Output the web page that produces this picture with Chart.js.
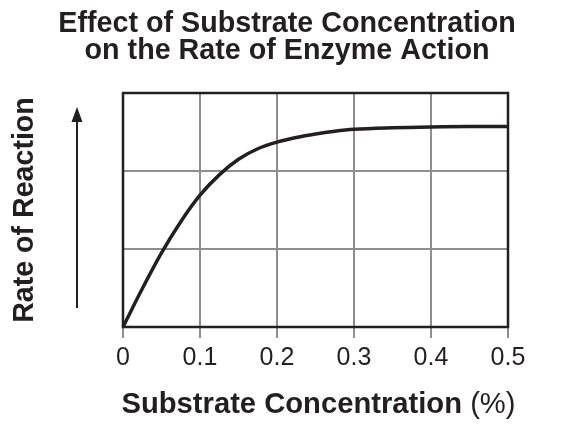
<!DOCTYPE html>
<html>
<head>
<meta charset="utf-8">
<script src="https://cdn.jsdelivr.net/npm/chart.js@4/dist/chart.umd.min.js"></script>
<style>
  html, body { margin: 0; padding: 0; background: #ffffff; }
  canvas { display: block; }
</style>
</head>
<body>
<canvas id="c" width="573" height="425"></canvas>
<script>
// ---- Data ----
const concentration = [0, 0.025, 0.05, 0.075, 0.1, 0.125, 0.15, 0.175, 0.2, 0.225, 0.25, 0.275, 0.3, 0.35, 0.4, 0.45, 0.5];
const reactionRate  = [0, 0.49, 0.95, 1.35, 1.69, 1.95, 2.15, 2.285, 2.37, 2.43, 2.475, 2.51, 2.535, 2.555, 2.565, 2.57, 2.57];
const xTickLabels   = ['0', '0.1', '0.2', '0.3', '0.4', '0.5'];
const titleLines    = ['Effect of Substrate Concentration', 'on the Rate of Enzyme Action'];
const xTitleBold    = 'Substrate Concentration';
const xTitleRegular = ' (%)';
const yTitle        = 'Rate of Reaction';

const FONT = '"Liberation Sans", Arial, Helvetica, sans-serif';
const INK = '#231f20';
const GRID = '#8e8e8e';

const points = concentration.map((x, i) => ({ x: x, y: reactionRate[i] }));

const decorPlugin = {
  id: 'decor',
  beforeDatasetsDraw(chart) {
    const { ctx, chartArea: a } = chart;
    ctx.save();
    ctx.strokeStyle = INK;
    ctx.lineWidth = 2.5;
    ctx.strokeRect(a.left, a.top, a.right - a.left, a.bottom - a.top);
    ctx.restore();
  },
  afterDraw(chart) {
    const { ctx, chartArea: a } = chart;
    ctx.save();
    ctx.fillStyle = INK;
    // Title
    ctx.font = 'bold 28.7px ' + FONT;
    ctx.textAlign = 'center';
    ctx.textBaseline = 'alphabetic';
    ctx.fillText(titleLines[0], 287, 32);
    ctx.fillText(titleLines[1], 287, 59);

    // X axis title (bold + regular)
    const cx = (a.left + a.right) / 2 + 3;
    ctx.font = 'bold 29.2px ' + FONT;
    const wb = ctx.measureText(xTitleBold).width;
    ctx.font = '29.2px ' + FONT;
    const wr = ctx.measureText(xTitleRegular).width;
    let sx = cx - (wb + wr) / 2;
    ctx.textAlign = 'left';
    ctx.font = 'bold 29.2px ' + FONT;
    ctx.fillText(xTitleBold, sx, 413);
    ctx.font = '29.2px ' + FONT;
    ctx.fillText(xTitleRegular, sx + wb, 413);

    // Y axis title (rotated)
    ctx.save();
    ctx.translate(33, (a.top + a.bottom) / 2);
    ctx.rotate(-Math.PI / 2);
    ctx.textAlign = 'center';
    ctx.font = 'bold 28.6px ' + FONT;
    ctx.fillText(yTitle, 0, 0);
    ctx.restore();

    // Arrow
    const ax = 77;
    ctx.strokeStyle = INK;
    ctx.lineWidth = 2;
    ctx.beginPath();
    ctx.moveTo(ax, 308);
    ctx.lineTo(ax, 118);
    ctx.stroke();
    ctx.beginPath();
    ctx.moveTo(ax, 107);
    ctx.lineTo(ax - 5.5, 122);
    ctx.lineTo(ax + 5.5, 122);
    ctx.closePath();
    ctx.fill();
    ctx.restore();
  }
};

new Chart(document.getElementById('c'), {
  type: 'line',
  data: {
    datasets: [{
      data: points,
      borderColor: INK,
      borderWidth: 3.5,
      pointRadius: 0,
      fill: false,
      cubicInterpolationMode: 'monotone',
      clip: false
    }]
  },
  options: {
    responsive: false,
    animation: false,
    devicePixelRatio: 1,
    layout: { padding: { left: 123, right: 65, top: 93, bottom: 0 } },
    plugins: {
      legend: { display: false },
      title: { display: false },
      tooltip: { enabled: false }
    },
    scales: {
      x: {
        type: 'linear',
        min: 0,
        max: 0.5,
        afterFit: (s) => { s.height = 98; },
        ticks: {
          stepSize: 0.1,
          color: INK,
          font: { family: FONT, size: 25 },
          padding: 5,
          maxRotation: 0,
          callback: (v, i) => xTickLabels[i]
        },
        grid: { color: GRID, lineWidth: 2, tickLength: 11, drawTicks: true },
        border: { display: false }
      },
      y: {
        min: 0,
        max: 3,
        afterFit: (s) => { s.width = 0; },
        ticks: { stepSize: 1, display: false },
        grid: { color: GRID, lineWidth: 2, drawTicks: false },
        border: { display: false }
      }
    }
  },
  plugins: [decorPlugin]
});
</script>
</body>
</html>
